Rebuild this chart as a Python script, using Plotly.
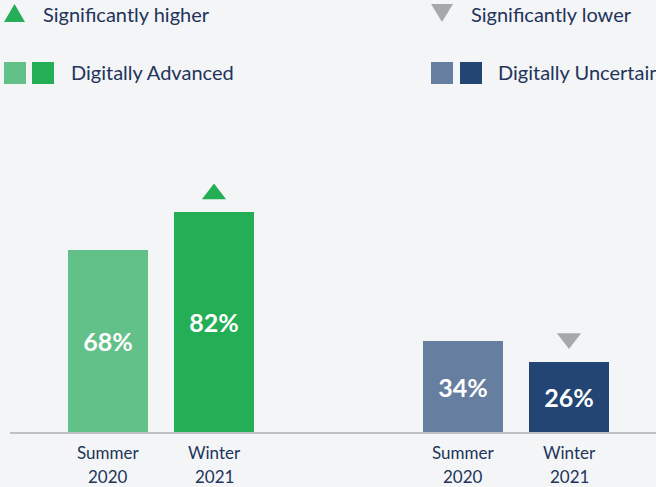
import plotly.graph_objects as go

# ---- data ----
groups = ["Digitally Advanced", "Digitally Uncertain"]
period_line1 = ["Summer", "Winter"]
period_line2 = ["2020", "2021"]
values = {
    "Digitally Advanced": [68, 82],
    "Digitally Uncertain": [34, 26],
}
significance = {
    "Digitally Advanced": ["", "up"],
    "Digitally Uncertain": ["", "down"],
}
legend_sig = ["Significantly higher", "Significantly lower"]

# ---- style ----
BG = "#f4f5f7"
TEXT = "#22345a"
colors = {
    "Digitally Advanced": ["#62c089", "#24ae55"],
    "Digitally Uncertain": ["#667e9f", "#224573"],
}
sig_colors = {"up": "#24ae55", "down": "#a7a8ab"}
sig_gap = {"up": 6.8, "down": 8.9}
FONT = "Lato"

W, H = 656, 487
ML, MB = 10, 55
PLOT_H = H - MB
PX_PER_UNIT = 2.68
group_start = [98, 453]
bar_step = 106
bar_w = 80


def px(x):
    return (x - ML) / (W - ML)


def py(y):
    return (PLOT_H - y) / PLOT_H


fig = go.Figure()
for gi, g in enumerate(groups):
    xs = [group_start[gi] + i * bar_step for i in range(len(period_line1))]
    vals = values[g]
    fig.add_trace(go.Bar(
        x=xs, y=vals, width=bar_w,
        marker=dict(color=colors[g], line=dict(width=0)),
        text=[f"{v}%" for v in vals],
        textposition="inside", insidetextanchor="middle",
        textfont=dict(family=FONT, size=25, color="white", weight="bold"),
        hoverinfo="skip", showlegend=False,
    ))
    for x, v, s in zip(xs, vals, significance[g]):
        if s:
            fig.add_trace(go.Scatter(
                x=[x], y=[v + sig_gap[s]], mode="markers",
                marker=dict(symbol="triangle-up" if s == "up" else "triangle-down",
                            size=21, color=sig_colors[s], line=dict(width=0)),
                hoverinfo="skip", showlegend=False,
            ))
    # category labels under the axis (two lines)
    for x, l1, l2 in zip(xs, period_line1, period_line2):
        fig.add_annotation(x=x, xref="x", y=py(452), yref="paper", text=l1,
                           showarrow=False, xanchor="center", yanchor="middle",
                           font=dict(family=FONT, size=17, color=TEXT))
        fig.add_annotation(x=x, xref="x", y=py(476), yref="paper", text=l2,
                           showarrow=False, xanchor="center", yanchor="middle",
                           font=dict(family=FONT, size=17, color=TEXT))

fig.update_layout(
    width=W, height=H,
    margin=dict(l=ML, r=0, t=0, b=MB),
    paper_bgcolor=BG, plot_bgcolor=BG,
    bargap=0,
    xaxis=dict(range=[0, W - ML], showticklabels=False,
               showgrid=False, zeroline=False, showline=True,
               linecolor="#bfc0c2", linewidth=2, ticks=""),
    yaxis=dict(range=[0, PLOT_H / PX_PER_UNIT], visible=False, showgrid=False, zeroline=False),
    font=dict(family=FONT, color=TEXT),
)

# ---- legend (drawn manually) ----
fig.add_shape(type="path", xref="paper", yref="paper",
              path=f"M {px(4)},{py(22)} L {px(25)},{py(22)} L {px(14.5)},{py(4)} Z",
              fillcolor=sig_colors["up"], line=dict(width=0))
fig.add_shape(type="path", xref="paper", yref="paper",
              path=f"M {px(431)},{py(4)} L {px(453)},{py(4)} L {px(442)},{py(22)} Z",
              fillcolor=sig_colors["down"], line=dict(width=0))
for x0, label in zip([41, 469], legend_sig):
    fig.add_annotation(x=px(x0), y=py(14), xref="paper", yref="paper",
                       text=label, showarrow=False, xanchor="left", yanchor="middle",
                       font=dict(family=FONT, size=20, color=TEXT))

for gi, (g, x0, tx) in enumerate(zip(groups, [4, 431], [69, 496])):
    for ci, xo in enumerate([0, 28 if gi == 0 else 29]):
        fig.add_shape(type="rect", xref="paper", yref="paper",
                      x0=px(x0 + xo), x1=px(x0 + xo + 22), y0=py(84), y1=py(62),
                      fillcolor=colors[g][ci], line=dict(width=0))
    fig.add_annotation(x=px(tx), y=py(72), xref="paper", yref="paper",
                       text=g, showarrow=False, xanchor="left", yanchor="middle",
                       font=dict(family=FONT, size=20, color=TEXT))

fig.write_html("out.html", config={"displayModeBar": False},
               post_script="document.body.style.margin='0';document.body.style.overflow='hidden';")
